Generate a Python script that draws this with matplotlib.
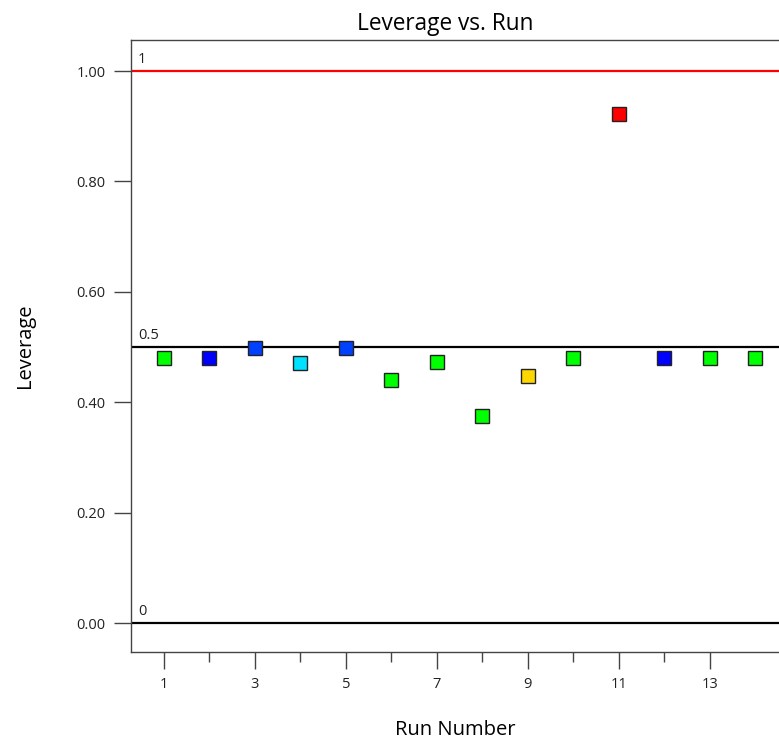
import matplotlib
matplotlib.use("Agg")
import matplotlib.pyplot as plt
from matplotlib.ticker import FixedLocator

plt.rcParams['font.family'] = ['Open Sans', 'DejaVu Sans']

runs = [1, 2, 3, 4, 5, 6, 7, 8, 9, 10, 11, 12, 13, 14]
leverage = [0.480, 0.480, 0.498, 0.471, 0.498, 0.440, 0.473, 0.375, 0.447, 0.480, 0.922, 0.480, 0.480, 0.480]
colors = ['#00ff00', '#0000ff', '#0040ff', '#00e0ff', '#0040ff', '#00ff00', '#00ff00',
          '#00ff00', '#ffd700', '#00ff00', '#ff0000', '#0000ff', '#00ff00', '#00ff00']
ref_values = [1.0, 0.5, 0.0]
ref_labels = ['1', '0.5', '0']
ref_colors = ['#ff0000', '#000000', '#000000']
y_ticks = [0.0, 0.2, 0.4, 0.6, 0.8, 1.0]
x_major = [1, 3, 5, 7, 9, 11, 13]
x_minor = [2, 4, 6, 8, 10, 12]

fig = plt.figure(figsize=(7.79, 7.43), dpi=100)
ax = fig.add_axes([0.168, 0.1225, 0.832, 0.8235])

for v, lab, c in zip(ref_values, ref_labels, ref_colors):
    ax.axhline(v, color=c, lw=1.6, zorder=1)
    ax.text(0.43, v + 0.007, lab, fontsize=10.5, color='#222222', va='bottom', ha='left')

for x, y, c in zip(runs, leverage, colors):
    ax.plot(x, y, marker='s', markersize=9.5, markerfacecolor=c, markeredgecolor='#222222',
            markeredgewidth=1.0, linestyle='none', zorder=3)

ax.set_xlim(0.275, 14.52)
ax.set_ylim(-0.0525, 1.056)
ax.set_yticks(y_ticks)
ax.set_yticklabels([f"{t:.2f}" for t in y_ticks])
ax.xaxis.set_major_locator(FixedLocator(x_major))
ax.xaxis.set_minor_locator(FixedLocator(x_minor))
ax.set_xticklabels([str(v) for v in x_major])

ax.tick_params(axis='both', which='major', direction='out', length=12, width=1, color='#444444',
               labelsize=10.5, labelcolor='#222222', pad=6)
ax.tick_params(axis='x', which='minor', direction='out', length=7, width=1, color='#444444')
for s in ['left', 'bottom', 'top']:
    ax.spines[s].set_color('#444444')
    ax.spines[s].set_linewidth(1)
ax.spines['right'].set_visible(False)

ax.set_title('Leverage vs. Run', fontsize=16.3, pad=7, x=0.485)
ax.set_xlabel('Run Number', fontsize=14.5, labelpad=20)
ax.set_ylabel('Leverage', fontsize=14.5, labelpad=30)

fig.savefig('out.png', dpi=100)
